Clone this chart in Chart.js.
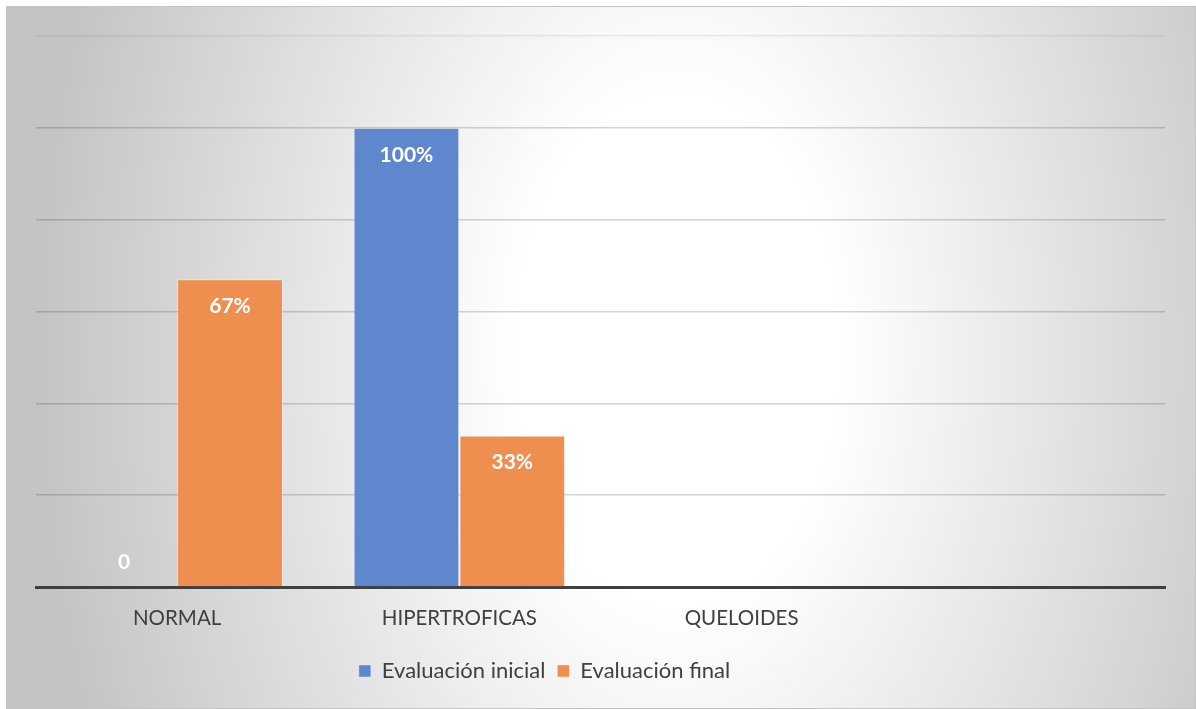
<!DOCTYPE html>
<html>
<head>
<meta charset="utf-8">
<script src="https://cdn.jsdelivr.net/npm/chart.js@4.4.1/dist/chart.umd.min.js"></script>
<style>
  html, body { margin: 0; padding: 0; background: #ffffff; }
  #wrap {
    position: absolute; left: 6px; top: 6px;
    width: 1188px; height: 701px;
    border: 1px solid #c4c4c4;
  }
</style>
</head>
<body>
<div id="wrap"><canvas id="grafico"></canvas></div>
<script>
"use strict";

// categorias y valores (fraccion de pacientes)
var categorias = ["NORMAL", "HIPERTROFICAS", "QUELOIDES", ""];
var evalInicial = [0, 1, null, null];
var evalFinal = [0.67, 0.33, null, null];
var ticksY = [0, 0.2, 0.4, 0.6, 0.8, 1, 1.2];

var fuente = "Lato, 'Open Sans', sans-serif";

// fondo gris con degradado radial (blanco hacia el centro)
var fondo = {
  id: "fondo",
  beforeDraw: function (chart) {
    var ctx = chart.ctx, w = chart.width, h = chart.height;
    var cx = 670, cy = 343, rx = 640, ry = 1000;
    ctx.save();
    ctx.translate(cx, cy);
    ctx.scale(1, ry / rx);
    var g = ctx.createRadialGradient(0, 0, 0, 0, 0, rx);
    g.addColorStop(0, "#ffffff");
    g.addColorStop(0.25, "#ffffff");
    g.addColorStop(1, "#c4c4c4");
    ctx.fillStyle = g;
    ctx.fillRect(-cx, -cy * rx / ry, w, h * rx / ry);
    ctx.restore();
  }
};

// la leyenda va un poco a la izquierda del centro
var moverLeyenda = {
  id: "moverLeyenda",
  afterLayout: function (chart) {
    var lg = chart.legend;
    if (!lg) return;
    lg.left -= 56;
    lg.right -= 56;
  }
};

// etiquetas blancas dentro de cada barra
var etiquetas = {
  id: "etiquetas",
  afterDatasetsDraw: function (chart) {
    var ctx = chart.ctx;
    ctx.save();
    ctx.font = "bold 21px " + fuente;
    ctx.fillStyle = "#ffffff";
    ctx.textAlign = "center";
    ctx.textBaseline = "middle";
    chart.data.datasets.forEach(function (ds, i) {
      var meta = chart.getDatasetMeta(i);
      meta.data.forEach(function (bar, j) {
        var v = ds.data[j];
        if (v === null || v === undefined) return;
        var txt = v === 0 ? "0" : Math.round(v * 100) + "%";
        var y = v > 0 ? bar.y + 27 : bar.base - 25;
        ctx.fillText(txt, bar.x, y);
      });
    });
    ctx.restore();
  }
};

var ctx = document.getElementById("grafico");
new Chart(ctx, {
  type: "bar",
  data: {
    labels: categorias,
    datasets: [
      {
        label: "Evaluación inicial",
        data: evalInicial,
        backgroundColor: "#5f87cd",
        borderColor: "rgba(255,255,255,0.35)",
        borderWidth: 1,
        categoryPercentage: 0.75,
        barPercentage: 1
      },
      {
        label: "Evaluación final",
        data: evalFinal,
        backgroundColor: "#ee8f4f",
        borderColor: "rgba(255,255,255,0.35)",
        borderWidth: 1,
        categoryPercentage: 0.75,
        barPercentage: 1
      }
    ]
  },
  options: {
    responsive: true,
    maintainAspectRatio: false,
    animation: false,
    layout: { padding: { top: 29, left: 29, right: 30, bottom: 16 } },
    plugins: {
      tooltip: { enabled: false },
      legend: {
        position: "bottom",
        labels: {
          color: "#404040",
          font: { family: fuente, size: 22 },
          boxWidth: 12,
          boxHeight: 12,
          padding: 12
        }
      }
    },
    scales: {
      x: {
        grid: { display: false },
        border: { display: true, color: "#404040", width: 3 },
        ticks: {
          color: "#404040",
          font: { family: fuente, size: 20.5 },
          padding: 11
        },
        afterFit: function (s) { s.height = 61; }
      },
      y: {
        min: 0,
        max: 1.2,
        afterBuildTicks: function (s) {
          s.ticks = ticksY.map(function (v) { return { value: v }; });
        },
        ticks: { display: false },
        border: { display: false },
        grid: {
          color: function (c) {
            return c.tick && c.tick.value === 1.2 ? "rgba(0,0,0,0.07)" : "rgba(0,0,0,0.17)";
          },
          lineWidth: 1.5,
          drawTicks: false
        },
        afterFit: function (s) { s.width = 0; }
      }
    }
  },
  plugins: [fondo, moverLeyenda, etiquetas]
});
</script>
</body>
</html>
